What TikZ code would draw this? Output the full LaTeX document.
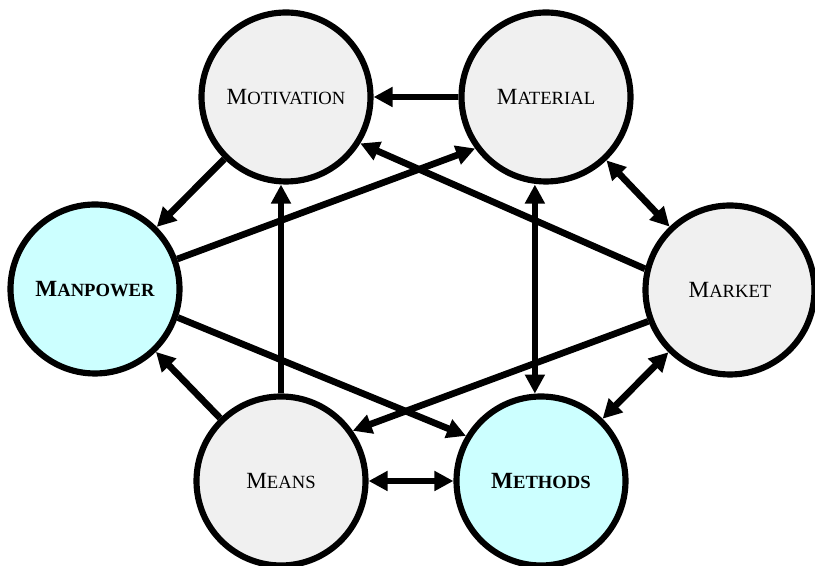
\documentclass[tikz,border=0pt]{standalone}
\usepackage{fontspec}
\setmainfont{Liberation Serif}
\usetikzlibrary{arrows.meta}
\definecolor{factorgrey}{RGB}{240,240,240}
\definecolor{factorcyan}{RGB}{204,255,255}
\newcommand{\capword}[2]{#1{\fontsize{10.6}{11}\selectfont #2}}
\tikzset{
factor/.style={circle, draw, line width=3.5pt, fill=factorgrey, minimum size=3.38cm, inner sep=0pt, font=\fontsize{13.2}{15}\selectfont},
keyfactor/.style={factor, fill=factorcyan, font=\fontsize{13.2}{15}\selectfont\bfseries},
link/.style={line width=3.8pt, -{Triangle[length=0.38cm,width=0.38cm]}},
dlink/.style={line width=3.8pt, {Triangle[length=0.38cm,width=0.38cm]}-{Triangle[length=0.38cm,width=0.38cm]}}
}

\begin{document}
\begin{tikzpicture}
\useasboundingbox (0,0) rectangle (16.3,11.32);
\node[factor] (motivation) at (5.72,9.38) {\capword{M}{OTIVATION}};
\node[factor] (material) at (10.92,9.38) {\capword{M}{ATERIAL}};
\node[keyfactor] (manpower) at (1.90,5.54) {\capword{M}{ANPOWER}};
\node[factor] (market) at (14.60,5.52) {\capword{M}{ARKET}};
\node[factor] (means) at (5.62,1.70) {\capword{M}{EANS}};
\node[keyfactor] (methods) at (10.82,1.70) {\capword{M}{ETHODS}};
\draw[link] (material) -- (motivation);
\draw[link] (motivation) -- (manpower);
\draw[link] (manpower.20) -- (material.216);
\draw[link] (market.166) -- (motivation.328);
\draw[dlink] (material) -- (market);
\draw[dlink] (methods.94) -- (methods.94 |- material.south);
\draw[link] (means.north) -- (means.north |- motivation.south);
\draw[link] (means) -- (manpower);
\draw[link] (manpower.341) -- (methods.149);
\draw[link] (market.201) -- (means.35);
\draw[dlink] (means) -- (methods);
\draw[dlink] (methods) -- (market);
\end{tikzpicture}
\end{document}
